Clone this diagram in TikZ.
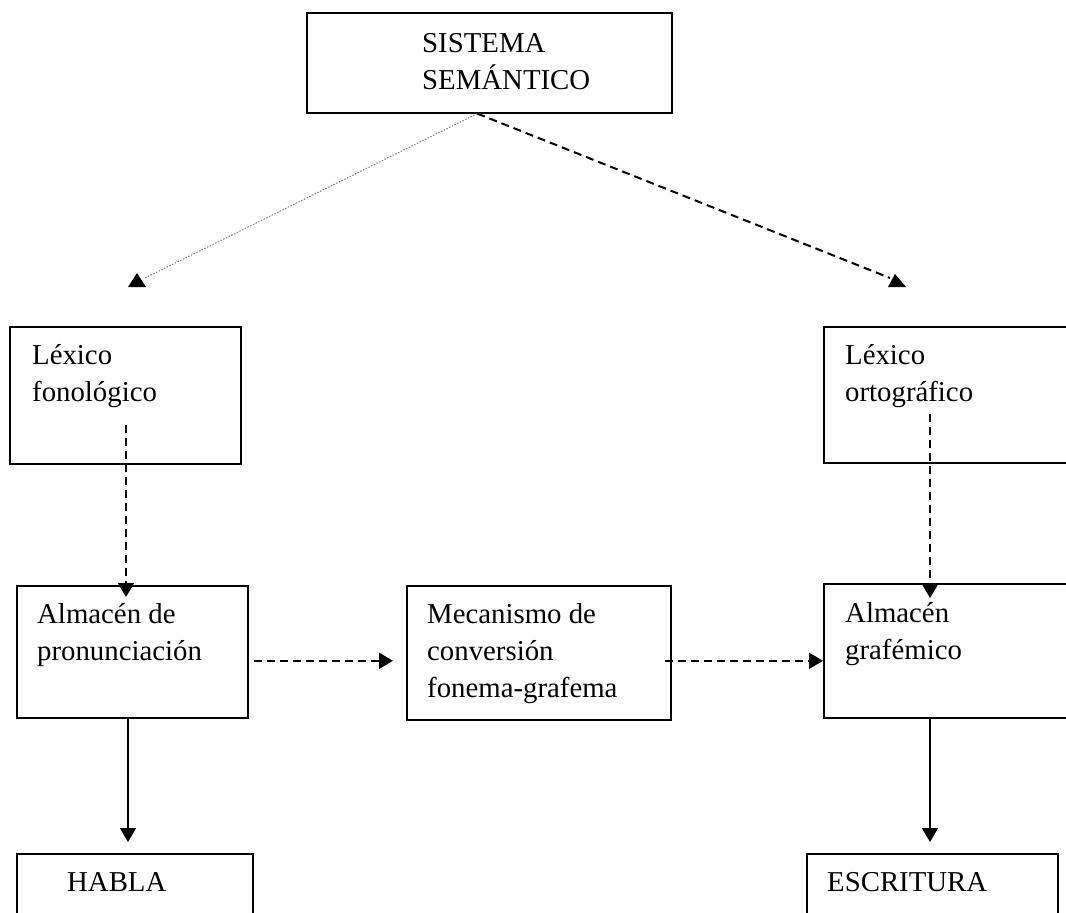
\documentclass[tikz,border=0pt]{standalone}
\usepackage{fontspec}
\setmainfont{Liberation Serif}
\usetikzlibrary{arrows.meta,calc}

\begin{document}
\begin{tikzpicture}[x=1pt,y=-1pt,
  box/.style={draw, line width=1.6pt, anchor=north west, inner sep=0pt},
  lbl/.style={anchor=base west, inner sep=0pt, font=\fontsize{28.8}{37}\selectfont},
  dashline/.style={line width=2pt, dash pattern=on 8pt off 5pt},
  dotline/.style={line width=1pt, gray, dash pattern=on 1.5pt off 1.5pt},
  solidline/.style={line width=1.6pt},
  headtri/.style={-{Triangle[length=14pt,width=16pt]}}]

\fill[white] (0,0) rectangle (1066,913);
\clip (0,0) rectangle (1066,913);

% boxes
\node[box, minimum width=365pt, minimum height=100pt] (sem)  at (306,12)  {};
\node[box, minimum width=231pt, minimum height=137pt] (lexf) at (9,326)   {};
\node[box, minimum width=300pt, minimum height=136pt] (lexo) at (823,326) {};
\node[box, minimum width=231pt, minimum height=132pt] (almp) at (16,585)  {};
\node[box, minimum width=264pt, minimum height=134pt] (mec)  at (406,585) {};
\node[box, minimum width=300pt, minimum height=134pt] (almg) at (823,583) {};
\node[box, minimum width=236pt, minimum height=120pt] (habla) at (16,853) {};
\node[box, minimum width=251pt, minimum height=120pt] (escr) at (806,853) {};

% box texts
\node[lbl] (semtxt)  at (422,52)  {\parbox[t]{300pt}{\raggedright SISTEMA\\SEMÁNTICO}};
\node[lbl] (lexftxt) at (32,364)  {\parbox[t]{200pt}{\raggedright Léxico\\fonológico}};
\node[lbl] (lexotxt) at (845,364) {\parbox[t]{200pt}{\raggedright Léxico\\ortográfico}};
\node[lbl] (almptxt) at (37,623)  {\parbox[t]{210pt}{\raggedright Almacén de\\pronunciación}};
\node[lbl] (mectxt)  at (427,623) {\parbox[t]{240pt}{\raggedright Mecanismo de\\conversión\\fonema-grafema}};
\node[lbl] (almgtxt) at (845,622) {\parbox[t]{200pt}{\raggedright Almacén\\grafémico}};
\node[lbl] (hablatxt) at (67,891) {HABLA};
\node[lbl] (escrtxt) at (827,891) {ESCRITURA};

% links from the semantic system
\coordinate (semfoot) at ($(sem.south)+(-12,0)$);
\coordinate (lfend) at (145,278);
\coordinate (loend) at (890,278);
\draw[dotline] (semfoot) -- (lfend);
\fill (lfend) ++(-8,-5) -- ++(-9,14) -- ++(18,0) -- cycle;
\draw[dashline] (semfoot) -- (loend);
\fill (loend) ++(5,-4) -- ++(-7,13) -- ++(18,0) -- cycle;

% lexicons to stores
\draw[dashline, headtri] ($(lexf.south west)+(117,-40)$) -- ($(almp.north west)+(110,12)$);
\draw[dashline, headtri] ($(lexo.south west)+(107,-50)$) -- ($(almg.north west)+(107,15)$);

% conversion route
\draw[dashline, headtri] ($(almp.east)+(5,9)$) -- ($(mec.west)+(-13,8)$);
\draw[dashline, headtri] ($(mec.east)+(-7,8)$) -- ($(almg.west)+(0,10)$);

% outputs
\draw[solidline, headtri] ($(almp.south west)+(112,0)$) -- ($(habla.north west)+(112,-11)$);
\draw[solidline, headtri] ($(almg.south west)+(107,0)$) -- ($(escr.north west)+(124,-11)$);

\end{tikzpicture}
\end{document}
